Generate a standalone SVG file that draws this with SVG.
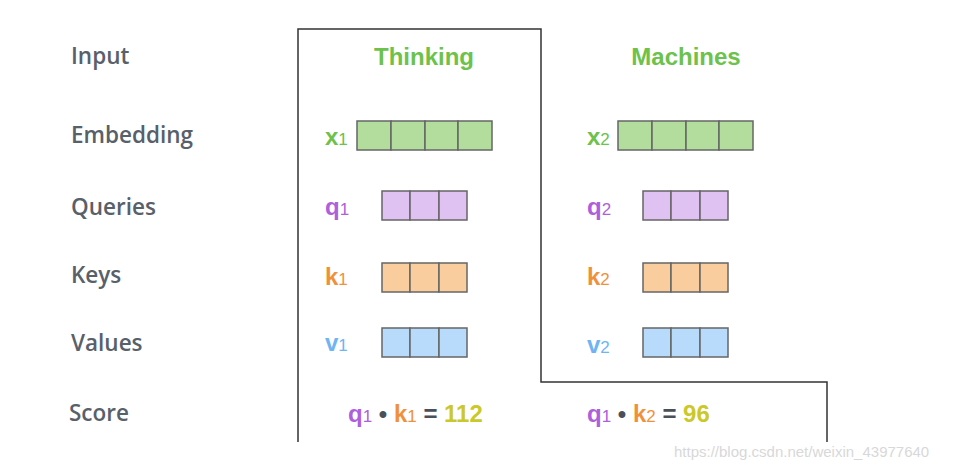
<svg xmlns="http://www.w3.org/2000/svg" width="955" height="470" viewBox="0 0 955 470">
<style>
.lbl{font-family:"Open Sans","Liberation Sans",sans-serif;font-weight:600;font-size:22.5px;fill:#58606a}
.word{font-family:"Liberation Sans",Arial,sans-serif;font-weight:bold;font-size:24px;fill:#6cc24a}
.v{font-family:"Liberation Sans",Arial,sans-serif;font-weight:bold;font-size:24px}
.sub{font-size:17px;font-weight:normal}
.g{fill:#6cc24a}.p{fill:#b05fdc}.o{fill:#f0913a}.b{fill:#6fb4f3}.y{fill:#cbc92a}.d{fill:#4a5058}
.cell{stroke:#666;stroke-width:1.5}
.cg{fill:#b3dd9c}.cp{fill:#dfc1f2}.co{fill:#f9cd9d}.cb{fill:#b8dbfb}
.frame{fill:none;stroke:#333;stroke-width:1.5}
.wm{font-family:"Liberation Sans",Arial,sans-serif;font-size:15px;fill:#d8d8d8}
</style>
<g id="row-labels">
<text class="lbl" x="71" y="64">Input</text>
<text class="lbl" x="71" y="143">Embedding</text>
<text class="lbl" x="71" y="215">Queries</text>
<text class="lbl" x="71" y="283">Keys</text>
<text class="lbl" x="71" y="351">Values</text>
<text class="lbl" x="69" y="421">Score</text>
</g>
<g id="connectors">
<path class="frame" d="M298,442 V29 H541 V382 H827 V442"/>
</g>
<g id="thinking">
<text class="word" x="424" y="65" text-anchor="middle">Thinking</text>
<text class="v g" x="325" y="145">x<tspan class="sub">1</tspan></text>
<g class="cell cg"><rect x="357" y="121" width="34" height="29"/><rect x="391" y="121" width="34" height="29"/><rect x="425" y="121" width="33" height="29"/><rect x="458" y="121" width="34" height="29"/></g>
<text class="v p" x="325" y="215">q<tspan class="sub">1</tspan></text>
<g class="cell cp"><rect x="382" y="191" width="28" height="29"/><rect x="410" y="191" width="29" height="29"/><rect x="439" y="191" width="28" height="29"/></g>
<text class="v o" x="325" y="285">k<tspan class="sub">1</tspan></text>
<g class="cell co"><rect x="382" y="263" width="28" height="29"/><rect x="410" y="263" width="29" height="29"/><rect x="439" y="263" width="28" height="29"/></g>
<text class="v b" x="325" y="351">v<tspan class="sub">1</tspan></text>
<g class="cell cb"><rect x="382" y="328" width="28" height="29"/><rect x="410" y="328" width="29" height="29"/><rect x="439" y="328" width="28" height="29"/></g>
<text class="v" x="348" y="422"><tspan class="p">q</tspan><tspan class="p sub">1</tspan><tspan class="d"> • </tspan><tspan class="o">k</tspan><tspan class="o sub">1</tspan><tspan class="d"> = </tspan><tspan class="y">112</tspan></text>
</g>
<g id="machines">
<text class="word" x="686" y="65" text-anchor="middle">Machines</text>
<text class="v g" x="587" y="145">x<tspan class="sub">2</tspan></text>
<g class="cell cg"><rect x="618" y="121" width="34" height="29"/><rect x="652" y="121" width="34" height="29"/><rect x="686" y="121" width="33" height="29"/><rect x="719" y="121" width="34" height="29"/></g>
<text class="v p" x="587" y="215">q<tspan class="sub">2</tspan></text>
<g class="cell cp"><rect x="643" y="191" width="28" height="29"/><rect x="671" y="191" width="29" height="29"/><rect x="700" y="191" width="28" height="29"/></g>
<text class="v o" x="587" y="285">k<tspan class="sub">2</tspan></text>
<g class="cell co"><rect x="643" y="263" width="28" height="29"/><rect x="671" y="263" width="29" height="29"/><rect x="700" y="263" width="28" height="29"/></g>
<text class="v b" x="587" y="353">v<tspan class="sub">2</tspan></text>
<g class="cell cb"><rect x="643" y="328" width="28" height="29"/><rect x="671" y="328" width="29" height="29"/><rect x="700" y="328" width="28" height="29"/></g>
<text class="v" x="587" y="422"><tspan class="p">q</tspan><tspan class="p sub">1</tspan><tspan class="d"> • </tspan><tspan class="o">k</tspan><tspan class="o sub">2</tspan><tspan class="d"> = </tspan><tspan class="y">96</tspan></text>
</g>
<text class="wm" x="674" y="457">https://blog.csdn.net/weixin_43977640</text>
</svg>
